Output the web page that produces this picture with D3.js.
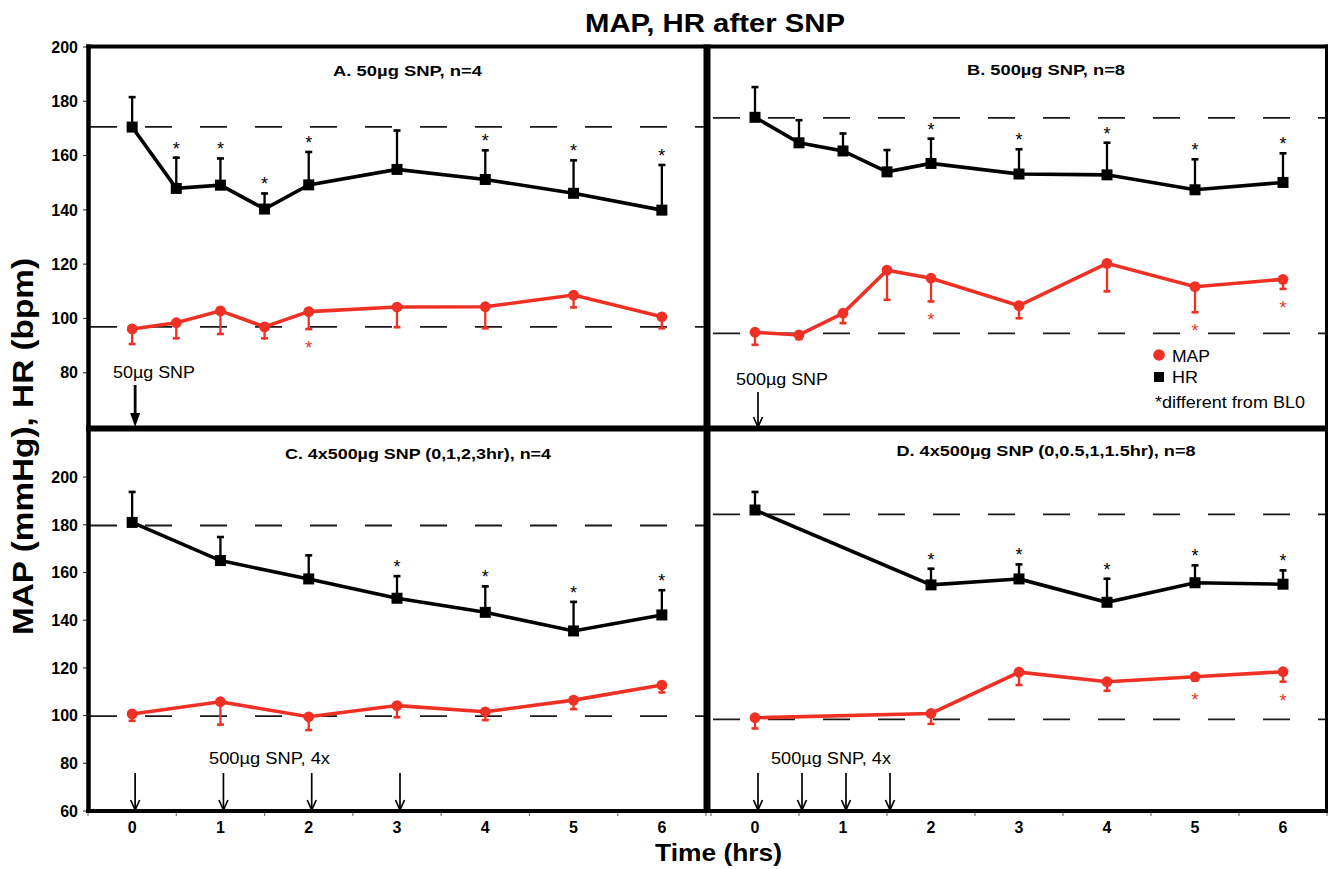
<!DOCTYPE html>
<html><head><meta charset="utf-8">
<script src="https://cdn.jsdelivr.net/npm/d3@7"></script>
<style>
body{margin:0;background:#fff}
svg{display:block}
text{font-family:"Liberation Sans",Arial,Helvetica,sans-serif}
</style>
</head><body>
<svg id="c" width="1328" height="869"></svg>
<script>
// ---------------- DATA ----------------
const hourTicks = [0,1,2,3,4,5,6];
const yTicksTop = [80,100,120,140,160,180,200];
const yTicksBot = [60,80,100,120,140,160,180,200];

const timesAB = [0,0.5,1,1.5,2,3,4,5,6];
const timesC  = [0,1,2,3,4,5,6];
const timesD  = [0,2,3,4,5,6];

// Panel A: 50ug SNP, n=4
const hrA      = [170.5,147.9,149.1,140.3,149.2,154.9,151.2,146.1,139.9];
const hrErrA   = [11.4,11.7,10.2,6.1,12.5,14.7,11.1,12.5,17.0];
const hrStarA  = [0,1,1,1,1,0,1,1,1];
const mapA     = [96.1,98.4,102.8,96.9,102.5,104.2,104.3,108.6,100.6];
const mapErrA  = [5.9,6.1,8.9,4.6,6.8,7.8,8.3,4.9,4.6];
const mapStarA = [0,0,0,0,1,0,0,0,0];
const baseA    = [170.6,96.9];
const injA     = [0];

// Panel B: 500ug SNP, n=8
const hrB      = [174.1,164.7,161.7,154.0,157.1,153.2,152.9,147.4,150.1];
const hrErrB   = [11.5,8.7,6.8,8.4,9.5,9.5,12.2,11.6,11.1];
const hrStarB  = [0,0,0,0,1,1,1,1,1];
const mapB     = [94.9,93.9,101.9,117.8,114.8,104.7,120.3,111.7,114.4];
const mapErrB  = [5.0,1.9,4.0,11.3,8.9,5.0,10.7,9.8,3.9];
const mapStarB = [0,0,0,0,1,0,0,1,1];
const baseB    = [173.9,94.5];
const injB     = [0];

// Panel C: 4x500ug SNP (0,1,2,3hr), n=4
const hrC      = [181.0,165.0,157.3,149.2,143.3,135.5,142.2];
const hrErrC   = [13.2,10.3,10.3,9.7,11.3,12.6,10.8];
const hrStarC  = [0,0,0,1,1,1,1];
const mapC     = [100.7,105.8,99.5,104.2,101.6,106.5,112.8];
const mapErrC  = [3.3,10.0,6.0,5.3,3.9,4.2,3.5];
const mapStarC = [0,0,0,0,0,0,0];
const baseC    = [179.7,99.8];
const injC     = [0,1,2,3];

// Panel D: 4x500ug SNP (0,0.5,1,1.5hr), n=8
const hrD      = [186.2,154.8,157.3,147.5,155.7,155.1];
const hrErrD   = [8.0,7.2,6.5,10.3,7.7,6.2];
const hrStarD  = [0,1,1,1,1,1];
const mapD     = [99.1,100.9,118.2,114.2,116.3,118.4];
const mapErrD  = [4.9,4.8,5.8,4.2,2.1,4.6];
const mapStarD = [0,0,0,0,1,1];
const baseD    = [184.4,98.4];
const injD     = [0,0.5,1,1.5];

// ---------------- DRAW ----------------
const svg = d3.select('#c');
const RED = '#ee3124';

const xL = d3.scaleLinear().domain([-0.5,6.5]).range([88,706]);
const xR = d3.scaleLinear().domain([-0.5,6.5]).range([711,1327]);
const yTop = d3.scaleLinear().domain([60,200]).range([427,47]);
const yBot = d3.scaleLinear().domain([60,220]).range([811,429.4]);

const panels = [
  {x:xL,y:yTop,t:timesAB,hr:hrA,hrE:hrErrA,hrS:hrStarA,map:mapA,mapE:mapErrA,mapS:mapStarA,base:baseA,inj:injA,
   title:'A. 50µg SNP, n=4',tx:407.5,ty:76,tw:149,
   note:'50µg SNP',nx:113,ny:378,nw:82,arrowTop:385,arrowBot:427,filled:true},
  {x:xR,y:yTop,t:timesAB,hr:hrB,hrE:hrErrB,hrS:hrStarB,map:mapB,mapE:mapErrB,mapS:mapStarB,base:baseB,inj:injB,
   title:'B. 500µg SNP, n=8',tx:1046,ty:75,tw:158,
   note:'500µg SNP',nx:736,ny:385,nw:92,arrowTop:392,arrowBot:427,filled:false},
  {x:xL,y:yBot,t:timesC,hr:hrC,hrE:hrErrC,hrS:hrStarC,map:mapC,mapE:mapErrC,mapS:mapStarC,base:baseC,inj:injC,
   title:'C. 4x500µg SNP (0,1,2,3hr), n=4',tx:418,ty:459,tw:266,
   note:'500µg SNP, 4x',nx:209,ny:764,nw:121,arrowTop:773,arrowBot:810,filled:false},
  {x:xR,y:yBot,t:timesD,hr:hrD,hrE:hrErrD,hrS:hrStarD,map:mapD,mapE:mapErrD,mapS:mapStarD,base:baseD,inj:injD,
   title:'D. 4x500µg SNP (0,0.5,1,1.5hr), n=8',tx:1046,ty:456,tw:299,
   note:'500µg SNP, 4x',nx:771,ny:764,nw:120,arrowTop:773,arrowBot:810,filled:false}
];

panels.forEach(p => {
  const g = svg.append('g');
  const [x0,x1] = p.x.range();
  p.base.forEach(b => {
    g.append('line').attr('x1',x0+2).attr('x2',x1).attr('y1',p.y(b)).attr('y2',p.y(b))
      .attr('stroke','#1a1a1a').attr('stroke-width',1.8).attr('stroke-dasharray','27,28');
  });
  g.append('text').attr('x',p.tx).attr('y',p.ty).attr('text-anchor','middle')
    .attr('font-size',15).attr('font-weight','bold').attr('textLength',p.tw).attr('lengthAdjust','spacingAndGlyphs')
    .text(p.title);

  const hrPts = p.t.map((t,i)=>({t,v:p.hr[i],e:p.hrE[i],s:p.hrS[i]}));
  const mapPts = p.t.map((t,i)=>({t,v:p.map[i],e:p.mapE[i],s:p.mapS[i]}));
  const line = d3.line().x(d=>p.x(d.t)).y(d=>p.y(d.v));

  hrPts.forEach(d => {
    const cx = p.x(d.t), yt = p.y(d.v+d.e);
    g.append('line').attr('x1',cx).attr('x2',cx).attr('y1',p.y(d.v)).attr('y2',yt)
      .attr('stroke','#000').attr('stroke-width',2.3);
    g.append('line').attr('x1',cx-3.5).attr('x2',cx+3.5).attr('y1',yt+1).attr('y2',yt+1)
      .attr('stroke','#000').attr('stroke-width',2.6);
    if (d.s) g.append('text').attr('x',cx).attr('y',yt-2).attr('text-anchor','middle')
      .attr('font-size',18).attr('fill','#000').text('*');
  });
  mapPts.forEach(d => {
    const cx = p.x(d.t), yb = p.y(d.v-d.e);
    g.append('line').attr('x1',cx).attr('x2',cx).attr('y1',p.y(d.v)).attr('y2',yb)
      .attr('stroke',RED).attr('stroke-width',2.3);
    g.append('line').attr('x1',cx-3.5).attr('x2',cx+3.5).attr('y1',yb-1).attr('y2',yb-1)
      .attr('stroke',RED).attr('stroke-width',2.6);
    if (d.s) g.append('text').attr('x',cx).attr('y',yb+24).attr('text-anchor','middle')
      .attr('font-size',18).attr('fill',RED).text('*');
  });
  g.append('path').datum(hrPts).attr('d',line).attr('fill','none').attr('stroke','#000').attr('stroke-width',3.6);
  g.append('path').datum(mapPts).attr('d',line).attr('fill','none').attr('stroke',RED).attr('stroke-width',3.6);
  g.selectAll('.sq').data(hrPts).join('rect')
    .attr('x',d=>p.x(d.t)-5.5).attr('y',d=>p.y(d.v)-5.5).attr('width',11).attr('height',11).attr('fill','#000');
  g.selectAll('.ci').data(mapPts).join('circle')
    .attr('cx',d=>p.x(d.t)).attr('cy',d=>p.y(d.v)).attr('r',5.4).attr('fill',RED);

  g.append('text').attr('x',p.nx).attr('y',p.ny)
    .attr('font-size',16).attr('textLength',p.nw).attr('lengthAdjust','spacingAndGlyphs').text(p.note);
  p.inj.forEach(t => {
    const ax = p.x(t)+3;
    if (p.filled) {
      g.append('line').attr('x1',ax).attr('x2',ax).attr('y1',p.arrowTop).attr('y2',p.arrowBot-12)
        .attr('stroke','#000').attr('stroke-width',2.8);
      g.append('path').attr('d',`M${ax-5},${p.arrowBot-14}L${ax+5},${p.arrowBot-14}L${ax},${p.arrowBot}Z`).attr('fill','#000');
    } else {
      g.append('line').attr('x1',ax).attr('x2',ax).attr('y1',p.arrowTop).attr('y2',p.arrowBot)
        .attr('stroke','#000').attr('stroke-width',1.7);
      g.append('path').attr('d',`M${ax-4.5},${p.arrowBot-10}L${ax},${p.arrowBot}L${ax+4.5},${p.arrowBot-10}`)
        .attr('fill','none').attr('stroke','#000').attr('stroke-width',1.7);
    }
  });
});

[[yTop,yTicksTop],[yBot,yTicksBot]].forEach(([ys,ticks]) => {
  const ga = svg.append('g').attr('transform','translate(88,0)');
  ga.selectAll('line').data(ticks).join('line')
    .attr('x1',-5).attr('x2',0).attr('y1',d=>ys(d)).attr('y2',d=>ys(d)).attr('stroke','#444').attr('stroke-width',1.2);
  ga.selectAll('text').data(ticks).join('text')
    .attr('x',-10).attr('y',d=>ys(d)).attr('dy','0.36em').attr('text-anchor','end')
    .attr('font-size',16).attr('font-weight','bold').text(d=>d);
});

[xL,xR].forEach(xs => {
  const gx = svg.append('g');
  const minor = d3.range(-0.5,7,1);
  gx.selectAll('line').data(minor).join('line')
    .attr('x1',d=>xs(d)).attr('x2',d=>xs(d)).attr('y1',812).attr('y2',816).attr('stroke','#777').attr('stroke-width',1.2);
  gx.selectAll('text').data(hourTicks).join('text')
    .attr('x',d=>xs(d)).attr('y',833).attr('text-anchor','middle')
    .attr('font-size',16).attr('font-weight','bold').text(d=>d);
});

const F = svg.append('g').attr('stroke','#000').attr('fill','none');
F.append('line').attr('x1',86).attr('x2',1328).attr('y1',46.5).attr('y2',46.5).attr('stroke-width',4);
F.append('line').attr('x1',86).attr('x2',1328).attr('y1',428.5).attr('y2',428.5).attr('stroke-width',6);
F.append('line').attr('x1',86).attr('x2',1328).attr('y1',811).attr('y2',811).attr('stroke-width',4);
F.append('line').attr('x1',88.5).attr('x2',88.5).attr('y1',44.5).attr('y2',813).attr('stroke-width',4.5);
F.append('line').attr('x1',707).attr('x2',707).attr('y1',44.5).attr('y2',813).attr('stroke-width',7);
F.append('line').attr('x1',1326.5).attr('x2',1326.5).attr('y1',44.5).attr('y2',813).attr('stroke-width',3);

const lg = svg.append('g');
lg.append('circle').attr('cx',1159).attr('cy',355).attr('r',5.8).attr('fill',RED);
lg.append('text').attr('x',1172).attr('y',362).attr('font-size',17).attr('textLength',38).attr('lengthAdjust','spacingAndGlyphs').text('MAP');
lg.append('rect').attr('x',1154).attr('y',372).attr('width',10).attr('height',10).attr('fill','#000');
lg.append('text').attr('x',1172).attr('y',383).attr('font-size',17).attr('textLength',26).attr('lengthAdjust','spacingAndGlyphs').text('HR');
lg.append('text').attr('x',1155).attr('y',408).attr('font-size',16).attr('textLength',150).attr('lengthAdjust','spacingAndGlyphs').text('*different from BL0');

svg.append('text').attr('x',715).attr('y',32).attr('text-anchor','middle').attr('font-size',26.5).attr('font-weight','bold')
  .attr('textLength',260).attr('lengthAdjust','spacingAndGlyphs').text('MAP, HR after SNP');
svg.append('text').attr('x',718.5).attr('y',861).attr('text-anchor','middle').attr('font-size',24).attr('font-weight','bold')
  .attr('textLength',127).attr('lengthAdjust','spacingAndGlyphs').text('Time (hrs)');
svg.append('text').attr('transform','translate(33,446.5) rotate(-90)').attr('text-anchor','middle')
  .attr('font-size',29).attr('font-weight','bold').attr('textLength',377).attr('lengthAdjust','spacingAndGlyphs')
  .text('MAP (mmHg), HR (bpm)');
</script>
</body></html>
